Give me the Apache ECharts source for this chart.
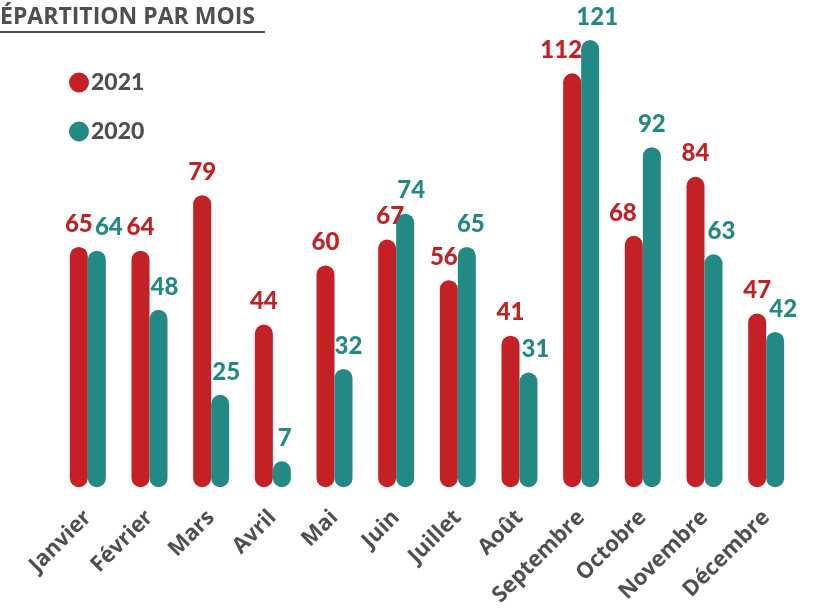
<!DOCTYPE html>
<html>
<head>
<meta charset="utf-8">
<script src="https://cdn.jsdelivr.net/npm/echarts@6/dist/echarts.min.js"></script>
<style>
  html, body { margin: 0; padding: 0; background: #fff; }
  #chart { width: 827px; height: 609px; }
</style>
</head>
<body>
<div id="chart"></div>
<script>
const months = ['Janvier', 'Février', 'Mars', 'Avril', 'Mai', 'Juin', 'Juillet', 'Août', 'Septembre', 'Octobre', 'Novembre', 'Décembre'];
const values2021 = [65, 64, 79, 44, 60, 67, 56, 41, 112, 68, 84, 47];
const values2020 = [64, 48, 25, 7, 32, 74, 65, 31, 121, 92, 63, 42];

// horizontal nudges of the value labels, as placed by hand in the original
const shift2021 = [0, 0, 0, 0, 0, 3, -5, 0, -11, -11, 0, 0];
const shift2020 = [12, 6, 6, 3, 5, 6, 4, 7, 7, 0, 8, 8];

const red = '#c42127';
const teal = '#238985';
const gray = '#4d4f50';

const chart = echarts.init(document.getElementById('chart'));

const barSeries = (name, data, shifts, color) => ({
  name: name,
  type: 'bar',
  data: data.map((v, i) => ({ value: v, label: { offset: [shifts[i], 0] } })),
  barWidth: 18,
  barGap: '0%',
  itemStyle: { color: color, borderRadius: 9 },
  label: {
    show: true,
    position: 'top',
    distance: 11,
    color: color,
    fontFamily: 'Lato',
    fontWeight: 900,
    fontSize: 24
  }
});

chart.setOption({
  animation: false,
  graphic: [{
    type: 'text',
    left: 0,
    top: 6,
    style: {
      text: 'ÉPARTITION PAR MOIS',
      fill: gray,
      font: 'bold 23px "Open Sans"'
    }
  }, {
    type: 'rect',
    shape: { x: 0, y: 31, width: 265, height: 2 },
    style: { fill: gray }
  }],
  legend: {
    orient: 'vertical',
    left: 64,
    top: 66,
    icon: 'circle',
    itemWidth: 20,
    itemHeight: 20,
    itemGap: 26,
    data: ['2021', '2020'],
    textStyle: {
      color: gray,
      fontFamily: 'Lato',
      fontWeight: 900,
      fontSize: 23,
      padding: [0, 0, 0, -3]
    }
  },
  grid: { left: 57, right: 30, top: 40, bottom: 121 },
  xAxis: {
    type: 'category',
    data: months,
    axisLine: { show: false },
    axisTick: { show: false },
    axisLabel: {
      rotate: 45,
      interval: 0,
      margin: 27,
      color: gray,
      fontFamily: 'Open Sans',
      fontWeight: 'bold',
      fontSize: 22
    }
  },
  yAxis: {
    type: 'value',
    min: 0,
    max: 121,
    show: false,
    splitLine: { show: false }
  },
  series: [
    barSeries('2021', values2021, shift2021, red),
    barSeries('2020', values2020, shift2020, teal)
  ]
});
</script>
</body>
</html>
